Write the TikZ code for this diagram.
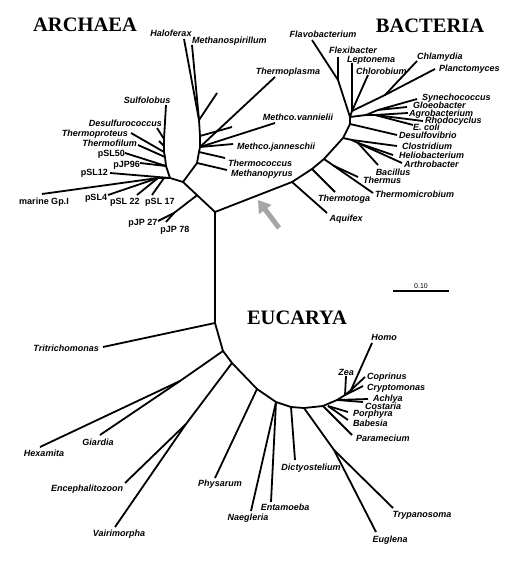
\documentclass[tikz,border=0pt]{standalone}
\usepackage{fontspec}
\usetikzlibrary{arrows.meta,calc}
\newfontfamily\labfam{Liberation Sans}
\newfontfamily\hdrfam{Liberation Serif}
\tikzset{
  br/.style={line width=1.8pt, line join=round},
  lab/.style={inner sep=0pt, font=\labfam\bfseries\itshape\fontsize{9}{10}\selectfont},
  labu/.style={inner sep=0pt, font=\labfam\bfseries\fontsize{9}{10}\selectfont},
  hdr/.style={inner sep=0pt, font=\hdrfam\bfseries\fontsize{20.5}{22}\selectfont},
}
\begin{document}
\begin{tikzpicture}[x=1pt,y=-1pt]
\useasboundingbox (0,0) rectangle (515,561);
% ---------- headers
\node[hdr,anchor=mid] (hA) at (85,29) {ARCHAEA};
\node[hdr,anchor=mid] (hB) at (430,30) {BACTERIA};
\node[hdr,anchor=mid] (hE) at (297,322) {EUCARYA};
% ---------- central
\coordinate (J1) at (215,212);
\coordinate (A0) at (183,182);
\coordinate (Eu0) at (215,323);
\draw[br] (A0) -- (J1) -- (Eu0);
% ---------- Archaea, left clade
\coordinate (Cr0) at (170,178);
\coordinate (P1) at (166,166);
\coordinate (S2) at (165,157);
\coordinate (T) at (164,152);
\coordinate (N1) at (164,146);
\coordinate (S1) at (164,139);
\coordinate (L) at (158,178);
\coordinate (tSulf) at (166,105);
\coordinate (tDesu) at (157,128);
\coordinate (tN1) at (159,141);
\coordinate (tTpro) at (131,133);
\coordinate (tTfil) at (138,145);
\coordinate (tpSL50) at (125,153);
\coordinate (tpJP96) at (140,163);
\coordinate (tpSL12) at (110,173);
\coordinate (tmar) at (42,194);
\coordinate (tpSL4) at (108,195);
\coordinate (tpSL22) at (137,195);
\coordinate (tpSL17) at (152,195);
\coordinate (L17) at (164,178);
\draw[br] (A0) -- (Cr0) -- (P1) -- (S2) -- (T) -- (N1) -- (S1) -- (tSulf);
\draw[br] (S1) -- (tDesu);
\draw[br] (N1) -- (tN1);
\draw[br] (T) -- (tTpro);
\draw[br] (S2) -- (tTfil);
\draw[br] (P1) -- (tpSL50);
\draw[br] (P1) -- (tpJP96);
\draw[br] (Cr0) -- (tpSL12);
\draw[br] (Cr0) -- (L);
\draw[br] (L) -- (tmar);
\draw[br] (L) -- (tpSL4);
\draw[br] (L) -- (tpSL22);
\draw[br] (L17) -- (tpSL17);
\coordinate (JP0) at ($(A0)!0.44!(J1)$);
\coordinate (JP1) at (174,213);
\coordinate (tpJP27) at (158,221);
\coordinate (tpJP78) at (166,222);
\draw[br] (JP0) -- (JP1) -- (tpJP27);
\draw[br] (JP1) -- (tpJP78);
\node[lab,anchor=mid] (lSulf) at (147,101) {Sulfolobus};
\node[lab,anchor=mid east] (lDesu) at (162,124) {Desulfurococcus};
\node[lab,anchor=mid east] (lTpro) at (128,134) {Thermoproteus};
\node[lab,anchor=mid east] (lTfil) at (137,144) {Thermofilum};
\node[labu,anchor=mid east] (lpSL50) at (125,154) {pSL50};
\node[labu,anchor=mid east] (lpJP96) at (140,165) {pJP96};
\node[labu,anchor=mid east] (lpSL12) at (108,173) {pSL12};
\node[labu,anchor=mid] (lmar) at (44,202) {marine Gp.I};
\node[labu,anchor=mid] (lpSL4) at (96,198) {pSL4};
\node[labu,anchor=mid] (lpSL22) at (125,202) {pSL 22};
\node[labu,anchor=mid] (lpSL17) at (160,202) {pSL 17};
\node[labu,anchor=mid] (lpJP27) at (143,223) {pJP 27};
\node[labu,anchor=mid] (lpJP78) at (175,230) {pJP 78};
% ---------- Euryarchaeota
\coordinate (E1) at (197,163);
\coordinate (E2) at (199,152);
\coordinate (E3) at (200,147);
\coordinate (E4) at (200,136);
\coordinate (E5) at (199,120);
\coordinate (tMpyr) at (227,170);
\coordinate (tTcoc) at (225,158);
\coordinate (tTpla) at (275,77);
\coordinate (tMvan) at (275,123);
\coordinate (tMjan) at (233,144);
\coordinate (tu2) at (232,127);
\coordinate (tu1) at (217,93);
\coordinate (tHalo) at (184,39);
\coordinate (tMspi) at (192,45);
\draw[br] (A0) -- (E1) -- (E2) -- (E3) -- (E4) -- (E5) -- (tHalo);
\draw[br] (E5) -- (tMspi);
\draw[br] (E5) -- (tu1);
\draw[br] (E4) -- (tu2);
\draw[br] (E3) -- (tTpla);
\draw[br] (E3) -- (tMvan);
\draw[br] (E3) -- (tMjan);
\draw[br] (E2) -- (tTcoc);
\draw[br] (E1) -- (tMpyr);
\node[lab,anchor=mid] (lHalo) at (171,34) {Haloferax};
\node[lab,anchor=mid west] (lMspi) at (192,41) {Methanospirillum};
\node[lab,anchor=mid] (lTpla) at (288,72) {Thermoplasma};
\node[lab,anchor=mid] (lMvan) at (298,118) {Methco.vannielii};
\node[lab,anchor=mid west] (lMjan) at (237,147) {Methco.janneschii};
\node[lab,anchor=mid west] (lTcoc) at (228,164) {Thermococcus};
\node[lab,anchor=mid west] (lMpyr) at (231,174) {Methanopyrus};
% ---------- Bacteria
\coordinate (B1) at (292,182);
\coordinate (B2) at (312,169);
\coordinate (B3) at (324,159);
\coordinate (B4) at (343,138);
\coordinate (B5) at (350,124);
\coordinate (B6) at (350,117);
\coordinate (B7) at (352,111);
\coordinate (Fx) at (338,80);
\coordinate (Ch0) at (385,95);
\coordinate (Pu0) at (366,115);
\coordinate (Cy) at (378,110);
\coordinate (Pr) at (375,115);
\coordinate (G0) at (352,140);
\coordinate (G1) at (358,143);
\coordinate (tAqui) at (327,213);
\coordinate (tTtog) at (335,192);
\coordinate (tTmic) at (373,193);
\coordinate (B3m) at ($(B3)!0.2!(tTmic)$);
\coordinate (tTher) at (358,177);
\coordinate (tClos) at (397,146);
\coordinate (tHeli) at (393,155);
\coordinate (tArth) at (402,163);
\coordinate (tBaci) at (378,165);
\coordinate (tDvib) at (397,135);
\coordinate (tSyne) at (417,99);
\coordinate (tGloe) at (407,107);
\coordinate (tAgro) at (408,113);
\coordinate (tRhod) at (423,121);
\coordinate (tEcol) at (413,125);
\coordinate (tLept) at (352,63);
\coordinate (tChlo) at (368,75);
\coordinate (tChla) at (417,61);
\coordinate (tPlan) at (435,69);
\coordinate (tFlav) at (312,40);
\coordinate (tFlex) at (338,57);
\draw[br] (J1) -- (B1) -- (B2) -- (B3) -- (B4) -- (B5) -- (B6) -- (B7) -- (tLept);
\draw[br] (B1) -- (tAqui);
\draw[br] (B2) -- (tTtog);
\draw[br] (B3) -- (tTmic);
\draw[br] (B3m) -- (tTher);
\draw[br] (B4) -- (G0) -- (tClos);
\draw[br] (G0) -- (G1) -- (tHeli);
\draw[br] (G1) -- (tArth);
\draw[br] (G1) -- (tBaci);
\draw[br] (B5) -- (tDvib);
\draw[br] (B6) -- (Pu0) -- (Cy) -- (tSyne);
\draw[br] (Cy) -- (tGloe);
\draw[br] (Pu0) -- (Pr) -- (tAgro);
\draw[br] (Pr) -- (tRhod);
\draw[br] (Pr) -- (tEcol);
\draw[br] (B7) -- (tChlo);
\draw[br] (B7) -- (Ch0) -- (tChla);
\draw[br] (Ch0) -- (tPlan);
\draw[br] (B6) -- (Fx) -- (tFlav);
\draw[br] (Fx) -- (tFlex);
\node[lab,anchor=mid] (lFlav) at (323,35) {Flavobacterium};
\node[lab,anchor=mid] (lFlex) at (353,51) {Flexibacter};
\node[lab,anchor=mid] (lLept) at (371,60) {Leptonema};
\node[lab,anchor=mid west] (lChlo) at (356,72) {Chlorobium};
\node[lab,anchor=mid west] (lChla) at (417,57) {Chlamydia};
\node[lab,anchor=mid west] (lPlan) at (439,69) {Planctomyces};
\node[lab,anchor=mid west] (lSyne) at (422,98) {Synechococcus};
\node[lab,anchor=mid west] (lGloe) at (413,106) {Gloeobacter};
\node[lab,anchor=mid west] (lAgro) at (409,114) {Agrobacterium};
\node[lab,anchor=mid west] (lRhod) at (425,121) {Rhodocyclus};
\node[lab,anchor=mid west] (lEcol) at (413,128) {E. coli};
\node[lab,anchor=mid west] (lDvib) at (399,136) {Desulfovibrio};
\node[lab,anchor=mid west] (lClos) at (402,147) {Clostridium};
\node[lab,anchor=mid west] (lHeli) at (399,156) {Heliobacterium};
\node[lab,anchor=mid west] (lArth) at (404,165) {Arthrobacter};
\node[lab,anchor=mid] (lBaci) at (393,173) {Bacillus};
\node[lab,anchor=mid west] (lTher) at (363,181) {Thermus};
\node[lab,anchor=mid west] (lTmic) at (375,195) {Thermomicrobium};
\node[lab,anchor=mid] (lTtog) at (344,199) {Thermotoga};
\node[lab,anchor=mid] (lAqui) at (346,219) {Aquifex};
% ---------- Eucarya
\coordinate (Eu1) at (223,351);
\coordinate (Eu2) at (232,363);
\coordinate (Eu3) at (257,389);
\coordinate (Eu4) at (276,402);
\coordinate (Eu5) at (291,407);
\coordinate (Eu6) at (304,408);
\coordinate (Eu7) at (323,406);
\coordinate (Eu8) at (337,400);
\coordinate (Eu9) at (345,395);
\coordinate (Eu10) at (351,390);
\coordinate (HG) at (180,381);
\coordinate (EV) at (186,424);
\coordinate (EuT) at (334,450);
\coordinate (Eu7b) at (328,406);
\coordinate (tTrit) at (103,347);
\coordinate (tHexa) at (40,447);
\coordinate (tGiar) at (100,435);
\coordinate (tEnce) at (125,483);
\coordinate (tVair) at (115,527);
\coordinate (tPhys) at (215,478);
\coordinate (tNaeg) at (251,511);
\coordinate (tEnta) at (271,502);
\coordinate (tDict) at (295,460);
\coordinate (tTryp) at (393,508);
\coordinate (tEugl) at (376,532);
\coordinate (tPara) at (352,435);
\coordinate (tBabe) at (348,420);
\coordinate (tPorp) at (348,412);
\coordinate (tCost) at (363,402);
\coordinate (tAchl) at (368,399);
\coordinate (tZea) at (346,376);
\coordinate (tCryp) at (363,386);
\coordinate (tCopr) at (365,377);
\coordinate (tHomo) at (372,343);
\draw[br] (Eu0) -- (Eu1) -- (Eu2) -- (Eu3) -- (Eu4) -- (Eu5) -- (Eu6) -- (Eu7) -- (Eu8) -- (Eu9) -- (Eu10) -- (tHomo);
\draw[br] (Eu0) -- (tTrit);
\draw[br] (Eu1) -- (HG) -- (tHexa);
\draw[br] (HG) -- (tGiar);
\draw[br] (Eu2) -- (EV) -- (tEnce);
\draw[br] (EV) -- (tVair);
\draw[br] (Eu3) -- (tPhys);
\draw[br] (Eu4) -- (tNaeg);
\draw[br] (Eu4) -- (tEnta);
\draw[br] (Eu5) -- (tDict);
\draw[br] (Eu6) -- (EuT) -- (tTryp);
\draw[br] (EuT) -- (tEugl);
\draw[br] (Eu7) -- (tPara);
\draw[br] (Eu7b) -- (tBabe);
\draw[br] (Eu7b) -- (tPorp);
\draw[br] (Eu8) -- (tCost);
\draw[br] (Eu8) -- (tAchl);
\draw[br] (Eu9) -- (tZea);
\draw[br] (Eu9) -- (tCryp);
\draw[br] (Eu10) -- (tCopr);
\node[lab,anchor=mid east] (lTrit) at (99,349) {Tritrichomonas};
\node[lab,anchor=mid] (lHexa) at (44,454) {Hexamita};
\node[lab,anchor=mid] (lGiar) at (98,443) {Giardia};
\node[lab,anchor=mid] (lEnce) at (87,489) {Encephalitozoon};
\node[lab,anchor=mid] (lVair) at (119,534) {Vairimorpha};
\node[lab,anchor=mid] (lPhys) at (220,484) {Physarum};
\node[lab,anchor=mid] (lNaeg) at (248,518) {Naegleria};
\node[lab,anchor=mid] (lEnta) at (285,508) {Entamoeba};
\node[lab,anchor=mid] (lDict) at (311,468) {Dictyostelium};
\node[lab,anchor=mid] (lTryp) at (422,515) {Trypanosoma};
\node[lab,anchor=mid] (lEugl) at (390,540) {Euglena};
\node[lab,anchor=mid west] (lPara) at (356,439) {Paramecium};
\node[lab,anchor=mid west] (lBabe) at (353,424) {Babesia};
\node[lab,anchor=mid west] (lPorp) at (353,414) {Porphyra};
\node[lab,anchor=mid west] (lCost) at (365,407) {Costaria};
\node[lab,anchor=mid west] (lAchl) at (373,399) {Achlya};
\node[lab,anchor=mid west] (lCryp) at (367,388) {Cryptomonas};
\node[lab,anchor=mid west] (lCopr) at (367,377) {Coprinus};
\node[lab,anchor=mid] (lZea) at (346,373) {Zea};
\node[lab,anchor=mid] (lHomo) at (384,338) {Homo};
% ---------- scale bar
\coordinate (sb1) at (393,291);
\coordinate (sb2) at (449,291);
\draw[line width=1.5pt] (sb1) -- (sb2);
\node[inner sep=0pt,anchor=mid,font=\labfam\fontsize{7}{8}\selectfont] (sbl) at (421,286) {0.10};
% ---------- grey arrow
\coordinate (arT) at (279,228);
\coordinate (arH) at (258,200);
\draw[line width=5pt, color={rgb,255:red,165;green,165;blue,165}, -{Triangle[length=12pt,width=15pt]}] (arT) -- (arH);
\end{tikzpicture}
\end{document}
